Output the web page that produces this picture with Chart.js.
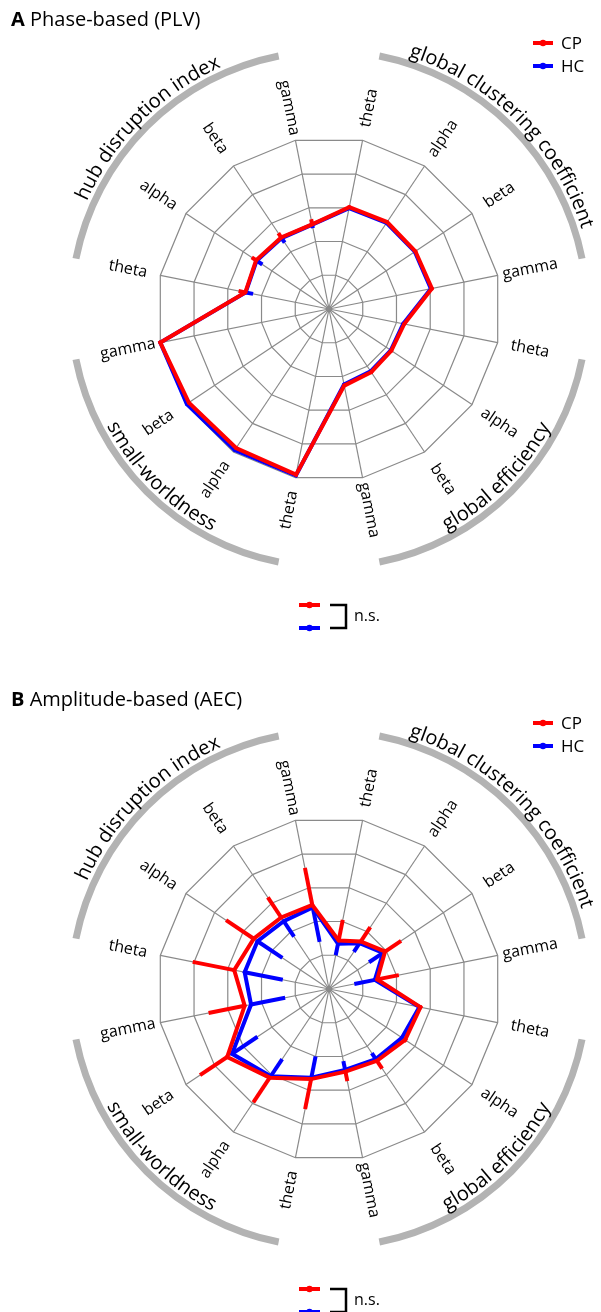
<!DOCTYPE html>
<html>
<head>
<meta charset="utf-8">
<script src="https://cdn.jsdelivr.net/npm/chart.js@4.4.0/dist/chart.umd.min.js"></script>
<style>
  html, body { margin: 0; padding: 0; background: #fff; overflow: hidden; }
  body { width: 601px; height: 1312px; position: relative; }
  canvas { position: absolute; left: 0; }
</style>
</head>
<body>
<canvas id="panel-a" width="601" height="680" style="top:0px"></canvas>
<canvas id="panel-b" width="601" height="680" style="top:680px"></canvas>
<script>
// Bands repeat inside each metric, spokes run clockwise from the top
const bands = ["theta", "alpha", "beta", "gamma"];
const metrics = ["global clustering coefficient", "global efficiency", "small-worldness", "hub disruption index"];
const groups = ["CP", "HC"];
const ringTicks = [0, 1, 2, 3, 4, 5];

// A Phase-based (PLV), values in ring units
const plvCP = [3.02, 3.04, 3.02, 3.05, 2.23, 2.18, 2.21, 2.27, 4.91, 4.86, 4.90, 5.00, 2.48, 2.55, 2.50, 2.51];
const plvCPErr = [0.03, 0.03, 0.03, 0.03, 0.03, 0.03, 0.03, 0.03, 0.03, 0.03, 0.03, 0.03, 0.20, 0.15, 0.15, 0.15];
const plvHC = [2.99, 3.01, 3.00, 3.02, 2.20, 2.16, 2.18, 2.24, 4.93, 4.93, 4.97, 5.00, 2.47, 2.53, 2.48, 2.50];
const plvHCErr = [0.03, 0.03, 0.03, 0.03, 0.03, 0.03, 0.03, 0.03, 0.03, 0.03, 0.03, 0.03, 0.22, 0.20, 0.16, 0.10];

// B Amplitude-based (AEC)
const aecCP = [1.44, 1.66, 1.96, 1.43, 2.71, 2.66, 2.51, 2.45, 2.67, 3.10, 3.56, 2.50, 2.81, 2.63, 2.50, 2.49];
const aecCPErr = [0.61, 0.50, 0.56, 0.64, 0.04, 0.06, 0.27, 0.28, 0.89, 0.86, 0.95, 1.07, 1.23, 0.97, 0.70, 1.10];
const aecHC = [1.34, 1.60, 1.89, 1.36, 2.68, 2.55, 2.45, 2.40, 2.63, 3.05, 3.39, 2.31, 2.50, 2.50, 2.37, 2.42];
const aecHCErr = [0.34, 0.30, 0.49, 0.61, 0.06, 0.05, 0.21, 0.26, 0.63, 0.60, 0.89, 1.01, 1.13, 0.87, 0.54, 1.02];

const spokeLabels = metrics.flatMap(() => bands);

const RED = "#ff0000";
const BLUE = "#0000ff";
const FONT = "'Open Sans', 'DejaVu Sans', sans-serif";

// text along a circle; outward = clockwise with tops away from centre
function arcText(ctx, text, cx, cy, r, mid, outward) {
    const total = ctx.measureText(text).width / r;
    let a = outward ? mid - total / 2 : mid + total / 2;
    for (const ch of text) {
        const w = ctx.measureText(ch).width / r;
        const c = outward ? a + w / 2 : a - w / 2;
        ctx.save();
        ctx.translate(cx + r * Math.sin(c), cy - r * Math.cos(c));
        ctx.rotate(outward ? c : c + Math.PI);
        ctx.fillText(ch, 0, 0);
        ctx.restore();
        a = outward ? a + w : a - w;
    }
}

function legendMark(ctx, x1, x2, y, color) {
    ctx.strokeStyle = color;
    ctx.lineWidth = 4;
    ctx.beginPath();
    ctx.moveTo(x1, y);
    ctx.lineTo(x2, y);
    ctx.stroke();
    ctx.fillStyle = color;
    ctx.beginPath();
    ctx.arc((x1 + x2) / 2, y, 3.2, 0, Math.PI * 2);
    ctx.fill();
}

function errorBars(chart, dsIndex, errs, sign, color) {
    const ctx = chart.ctx;
    const scale = chart.scales.r;
    const vals = chart.data.datasets[dsIndex].data;
    ctx.save();
    ctx.strokeStyle = color;
    ctx.lineWidth = 4;
    vals.forEach((v, i) => {
        const p1 = scale.getPointPositionForValue(i, v);
        const p2 = scale.getPointPositionForValue(i, v + sign * errs[i]);
        ctx.beginPath();
        ctx.moveTo(p1.x, p1.y);
        ctx.lineTo(p2.x, p2.y);
        ctx.stroke();
    });
    ctx.restore();
}

const decorPlugin = {
    id: "decor",
    beforeDatasetsDraw(chart, args, opts) {
        // HC bars point inward, under the lines
        errorBars(chart, 1, opts.hcErr, -1, BLUE);
    },
    afterDatasetsDraw(chart, args, opts) {
        // CP bars point outward, on top
        errorBars(chart, 0, opts.cpErr, 1, RED);
    },
    afterDraw(chart, args, opts) {
        const ctx = chart.ctx;
        const scale = chart.scales.r;
        const cx = scale.xCenter, cy = scale.yCenter;
        ctx.save();

        // grey blob where the spokes meet
        ctx.fillStyle = "#8a8a8a";
        ctx.beginPath();
        ctx.arc(cx, cy, 3, 0, Math.PI * 2);
        ctx.fill();

        // panel title
        ctx.fillStyle = "#000";
        ctx.textBaseline = "alphabetic";
        ctx.textAlign = "left";
        ctx.font = "bold 20px " + FONT;
        ctx.fillText(opts.letter, 11, opts.titleY);
        const lw = ctx.measureText(opts.letter + " ").width;
        ctx.font = "20px " + FONT;
        ctx.fillText(opts.title, 11 + lw, opts.titleY);

        // band labels, reading outward on the right half and inward on the left
        ctx.font = "16px " + FONT;
        ctx.fillStyle = "#000";
        ctx.textAlign = "center";
        ctx.textBaseline = "middle";
        chart.data.labels.forEach((lab, i) => {
            const a = scale.getIndexAngle(i);
            ctx.save();
            ctx.translate(cx + 205 * Math.sin(a), cy - 205 * Math.cos(a));
            ctx.rotate(a > Math.PI ? a + Math.PI / 2 : a - Math.PI / 2);
            ctx.fillText(lab, 0, 0);
            ctx.restore();
        });

        // grey arcs + metric names
        const n = bands.length;
        metrics.forEach((m, k) => {
            const a1 = scale.getIndexAngle(k * n);
            const a2 = scale.getIndexAngle(k * n + n - 1);
            ctx.strokeStyle = "#b3b3b3";
            ctx.lineWidth = 7;
            ctx.beginPath();
            ctx.arc(cx, cy, 258, a1 - Math.PI / 2, a2 - Math.PI / 2);
            ctx.stroke();
            const mid = (a1 + a2) / 2;
            const top = Math.cos(mid) > 0;
            ctx.fillStyle = "#000";
            ctx.font = "20px " + FONT;
            ctx.textAlign = "center";
            ctx.textBaseline = "alphabetic";
            arcText(ctx, m, cx, cy, top ? 265 : 251, mid, top);
        });

        // group legend, top right
        ctx.font = "17px " + FONT;
        ctx.textAlign = "left";
        ctx.textBaseline = "middle";
        [RED, BLUE].forEach((col, g) => {
            const y = opts.legendY + g * 23;
            legendMark(ctx, 533, 553, y, col);
            ctx.fillStyle = "#000";
            ctx.fillText(groups[g], 561, y + 1);
        });

        // significance key
        const y1 = opts.keyY, y2 = opts.keyY + 23;
        legendMark(ctx, 299, 320, y1, RED);
        legendMark(ctx, 299, 320, y2, BLUE);
        ctx.strokeStyle = "#000";
        ctx.lineWidth = 2.5;
        ctx.beginPath();
        ctx.moveTo(330, y1);
        ctx.lineTo(346, y1);
        ctx.lineTo(346, y2);
        ctx.lineTo(330, y2);
        ctx.stroke();
        ctx.fillStyle = "#000";
        ctx.font = "16px " + FONT;
        ctx.fillText("n.s.", 354, (y1 + y2) / 2);
        ctx.restore();
    }
};

function makePanel(id, letter, title, cp, cpErr, hc, hcErr, keyY) {
    return new Chart(document.getElementById(id), {
        type: "radar",
        data: {
            labels: spokeLabels,
            datasets: [
                { label: groups[0], data: cp, borderColor: RED, backgroundColor: RED, borderWidth: 4,
                  pointRadius: 2, pointBorderWidth: 0, pointBackgroundColor: RED, fill: false },
                { label: groups[1], data: hc, borderColor: BLUE, backgroundColor: BLUE, borderWidth: 4,
                  pointRadius: 2, pointBorderWidth: 0, pointBackgroundColor: BLUE, fill: false }
            ]
        },
        options: {
            responsive: false,
            animation: false,
            events: [],
            layout: { padding: { left: 157, right: 100, top: 137, bottom: 199 } },
            plugins: {
                legend: { display: false },
                tooltip: { enabled: false },
                decor: { letter: letter, title: title, cpErr: cpErr, hcErr: hcErr,
                         titleY: 26, legendY: 43, keyY: keyY }
            },
            scales: {
                r: {
                    min: ringTicks[0],
                    max: ringTicks[ringTicks.length - 1],
                    startAngle: 360 / spokeLabels.length / 2,
                    ticks: { display: false, stepSize: 1 },
                    pointLabels: { display: false },
                    grid: { color: "#8a8a8a", lineWidth: 1.2 },
                    angleLines: { color: "#8a8a8a", lineWidth: 1.2 }
                }
            }
        },
        plugins: [decorPlugin]
    });
}

makePanel("panel-a", "A", "Phase-based (PLV)", plvCP, plvCPErr, plvHC, plvHCErr, 605);
makePanel("panel-b", "B", "Amplitude-based (AEC)", aecCP, aecCPErr, aecHC, aecHCErr, 609);
</script>
</body>
</html>
